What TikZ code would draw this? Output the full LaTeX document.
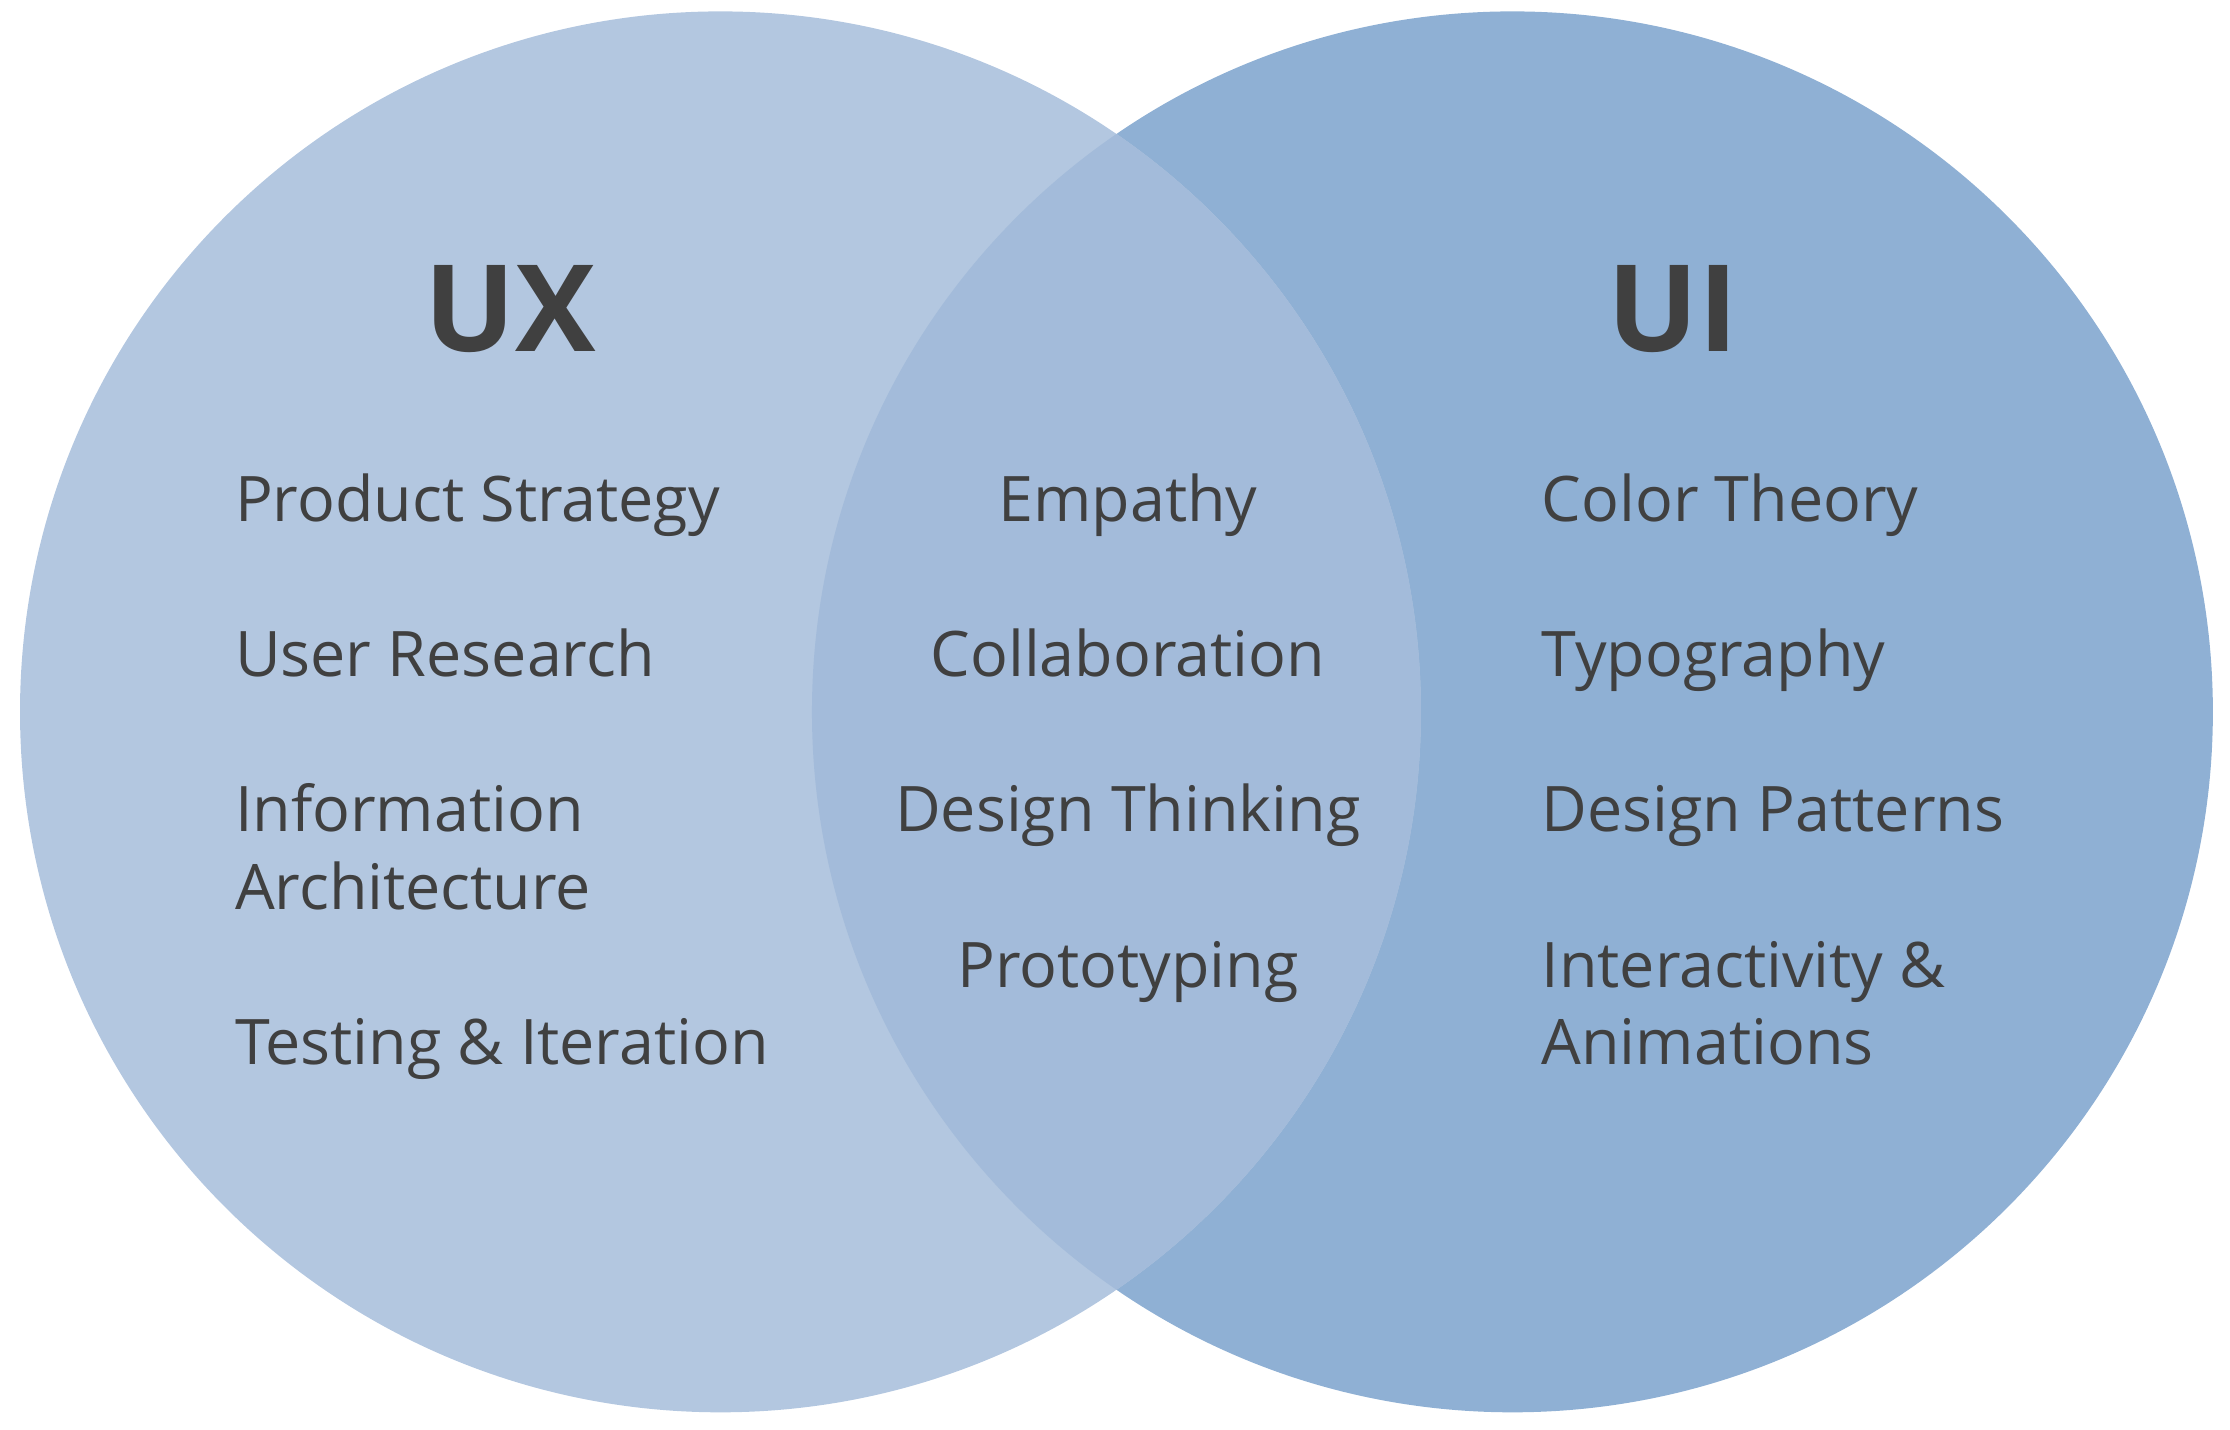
\documentclass[tikz,border=0pt]{standalone}
\usepackage{fontspec}
\setmainfont{Open Sans}
\usetikzlibrary{positioning}
\definecolor{uxfill}{RGB}{179,199,224}
\definecolor{uifill}{RGB}{143,176,212}
\definecolor{bothfill}{RGB}{163,187,218}
\definecolor{textgray}{RGB}{64,64,64}
\begin{document}
\begin{tikzpicture}[
        every node/.style={
            text=textgray,
            font=\fontsize{12.5}{15.4}\selectfont
        },
        title/.style={
            font=\fontsize{24}{28}\selectfont\bfseries
        },
        item/.style={
            anchor=base west,
            align=left
        },
        mid/.style={
            anchor=base
        }
    ]
    \useasboundingbox (0,0) rectangle (15.6,10);
    % circles
    \fill[uifill] (10.58,5.02) circle (4.90);
    \fill[uxfill] (5.04,5.02) circle (4.90);
    \begin{scope}
        \clip (5.04,5.02) circle (4.90);
        \fill[bothfill] (10.58,5.02) circle (4.90);
    \end{scope}
    % headings
    \node[title] (UX) at (3.57,7.84) {UX};
    \node[title] (UI) at (11.70,7.84) {UI};
    % UX items
    \node[item] (PS) at (1.52,6.35) {Product Strategy};
    \node[item] (UR) at (1.52,5.27) {User Research};
    \node[item] (IA) at (1.52,3.64) {Information\\Architecture};
    \node[item] (TI) at (1.52,2.55) {Testing \& Iteration};
    % shared items
    \node[mid] (EM) at (7.89,6.35) {Empathy};
    \node[mid] (CO) at (7.89,5.27) {Collaboration};
    \node[mid] (DT) at (7.89,4.18) {Design Thinking};
    \node[mid] (PR) at (7.89,3.09) {Prototyping};
    % UI items
    \node[item] (CT) at (10.66,6.35) {Color Theory};
    \node[item] (TY) at (10.66,5.27) {Typography};
    \node[item] (DP) at (10.66,4.18) {Design Patterns};
    \node[item] (IN) at (10.66,2.55) {Interactivity \&\\Animations};
\end{tikzpicture}
\end{document}
